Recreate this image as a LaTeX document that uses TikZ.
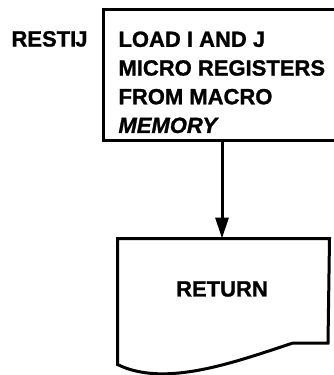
\documentclass[tikz,border=0pt]{standalone}
\usepackage{fontspec}
\setmainfont{Liberation Sans}[BoldFeatures={FakeBold=1.2},BoldItalicFeatures={FakeBold=1.2}]
\usetikzlibrary{arrows.meta}
\begin{document}
\begin{tikzpicture}[x=1pt,y=-1pt,line width=3pt,
  lbl/.style={inner sep=0pt,font=\fontsize{22}{28.7}\selectfont\bfseries},
  procbox/.style={draw,inner sep=0pt,minimum width=238pt,minimum height=131pt},
  docarea/.style={inner sep=0pt,minimum width=209pt,minimum height=123pt},
  flow/.style={-{Triangle[length=21pt,width=13pt]}}]
\useasboundingbox[fill=white] (0,0) rectangle (334,375);
\clip (0,0) rectangle (334,375);
\node[procbox] (top) at (222,74.5) {};
\node[lbl,anchor=north west,align=left] (body) at (117,30)
  {LOAD I AND J\\MICRO REGISTERS\\FROM MACRO\\\textit{MEMORY}};
\node[lbl,anchor=base west] (name) at (10,46.5) {RESTI\kern-1pt J};
\node[docarea] (ret) at (223.5,301.5) {};
\draw (ret.south west) -- (ret.north west) -- (ret.north east) -- (328,343) -- (293,343)
  .. controls (235,362) and (165,388) .. (ret.south west) -- cycle;
\node[lbl] (rettxt) at (222,289) {RETURN};
\draw[flow] (top.south) -- (top.south |- ret.north);
\end{tikzpicture}
\end{document}
